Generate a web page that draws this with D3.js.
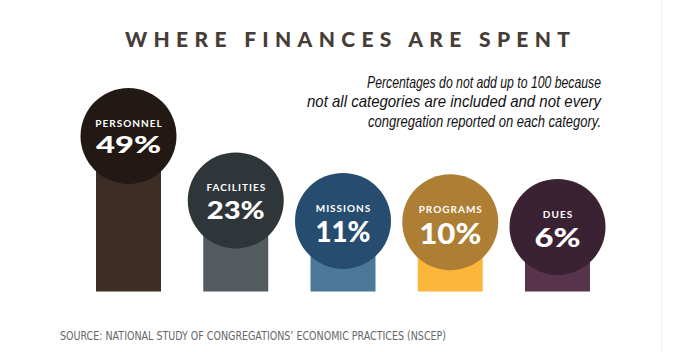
<!doctype html>
<meta charset="utf-8">
<style>
body { margin: 0; background: #fff; }
svg { display: block; }
.title { font-family: Lato, sans-serif; font-weight: 900; fill: #463d36; }
.note { font-family: "Liberation Sans", sans-serif; font-style: italic; fill: #111; }
.source { font-family: "DejaVu Sans", sans-serif; fill: #666; }
.cat { font-family: Lato, sans-serif; font-weight: 700; fill: #fff; letter-spacing: 1px; }
.val { font-family: Lato, sans-serif; font-weight: 900; fill: #fff; }
</style>
<html lang="en">
<body>
<script src="https://d3js.org/d3.v7.min.js"></script>
<script>
// data
var categories = ["PERSONNEL", "FACILITIES", "MISSIONS", "PROGRAMS", "DUES"];
var shares = [49, 23, 11, 10, 6];
var shareLabels = ["49%", "23%", "11%", "10%", "6%"];
var noteLines = [
  "Percentages do not add up to 100 because",
  "not all categories are included and not every",
  "congregation reported on each category."
];
var titleText = "WHERE FINANCES ARE SPENT";
var sourceText = "SOURCE: NATIONAL STUDY OF CONGREGATIONS\u2019 ECONOMIC PRACTICES (NSCEP)";

// styles
var circleColors = ["#221915", "#2f3639", "#264d70", "#ad7e33", "#3b2232"];
var barColors = ["#3d2d24", "#535b5f", "#4b7898", "#fcb63a", "#57344c"];
var valueSize = [22, 24, 28, 29, 27];
var valueWidth = [65, 58, 55, 62, 46];
var noteWidth = [234, 294, 233];

var width = 700, height = 352;
var baseline = 291.5, radius = 48, barW = 65;

var svg = d3.select("body").append("svg")
    .attr("width", width)
    .attr("height", height);

// faint page edge
svg.append("line")
    .attr("x1", 661.5).attr("x2", 661.5)
    .attr("y1", 0).attr("y2", height)
    .attr("stroke", "#efefef");

var x = d3.scalePoint().domain(categories).range([128.5, 557.5]);
var y = d3.scalePow().exponent(1.5).domain([0, 49]).range([231, 136]);

var data = categories.map(function(c, i) {
  return {cat: c, v: shares[i], label: shareLabels[i], i: i};
});

// title
svg.append("text")
    .attr("class", "title")
    .attr("x", 125).attr("y", 47.3)
    .attr("font-size", 21)
    .attr("textLength", 445)
    .attr("lengthAdjust", "spacing")
    .text(titleText);

// note
svg.selectAll(".note").data(noteLines).enter().append("text")
    .attr("class", "note")
    .attr("x", 601)
    .attr("y", function(d, i) { return 87.7 + i * 19.5; })
    .attr("text-anchor", "end")
    .attr("font-size", 16.5)
    .attr("textLength", function(d, i) { return noteWidth[i]; })
    .attr("lengthAdjust", "spacingAndGlyphs")
    .text(function(d) { return d; });

// bars
svg.selectAll(".bar").data(data).enter().append("rect")
    .attr("class", "bar")
    .attr("x", function(d) { return x(d.cat) - barW / 2; })
    .attr("y", function(d) { return y(d.v); })
    .attr("width", barW)
    .attr("height", function(d) { return baseline - y(d.v); })
    .attr("fill", function(d) { return barColors[d.i]; });

// circles
svg.selectAll(".dot").data(data).enter().append("circle")
    .attr("class", "dot")
    .attr("cx", function(d) { return x(d.cat); })
    .attr("cy", function(d) { return y(d.v); })
    .attr("r", radius)
    .attr("fill", function(d) { return circleColors[d.i]; });

// category labels
svg.selectAll(".cat").data(data).enter().append("text")
    .attr("class", "cat")
    .attr("x", function(d) { return x(d.cat) + 0.5; })
    .attr("y", function(d) { return y(d.v) - 9; })
    .attr("text-anchor", "middle")
    .attr("font-size", 10)
    .text(function(d) { return d.cat; });

// value labels
svg.selectAll(".val").data(data).enter().append("text")
    .attr("class", "val")
    .attr("x", function(d) { return x(d.cat); })
    .attr("y", function(d) { return y(d.v) + 1 + valueSize[d.i] * 0.72; })
    .attr("text-anchor", "middle")
    .attr("font-size", function(d) { return valueSize[d.i]; })
    .attr("textLength", function(d) { return valueWidth[d.i]; })
    .attr("lengthAdjust", "spacingAndGlyphs")
    .text(function(d) { return d.label; });

// source
svg.append("text")
    .attr("class", "source")
    .attr("x", 60).attr("y", 340)
    .attr("font-size", 11.5)
    .attr("textLength", 386)
    .attr("lengthAdjust", "spacingAndGlyphs")
    .text(sourceText);
</script>
</body>
</html>
